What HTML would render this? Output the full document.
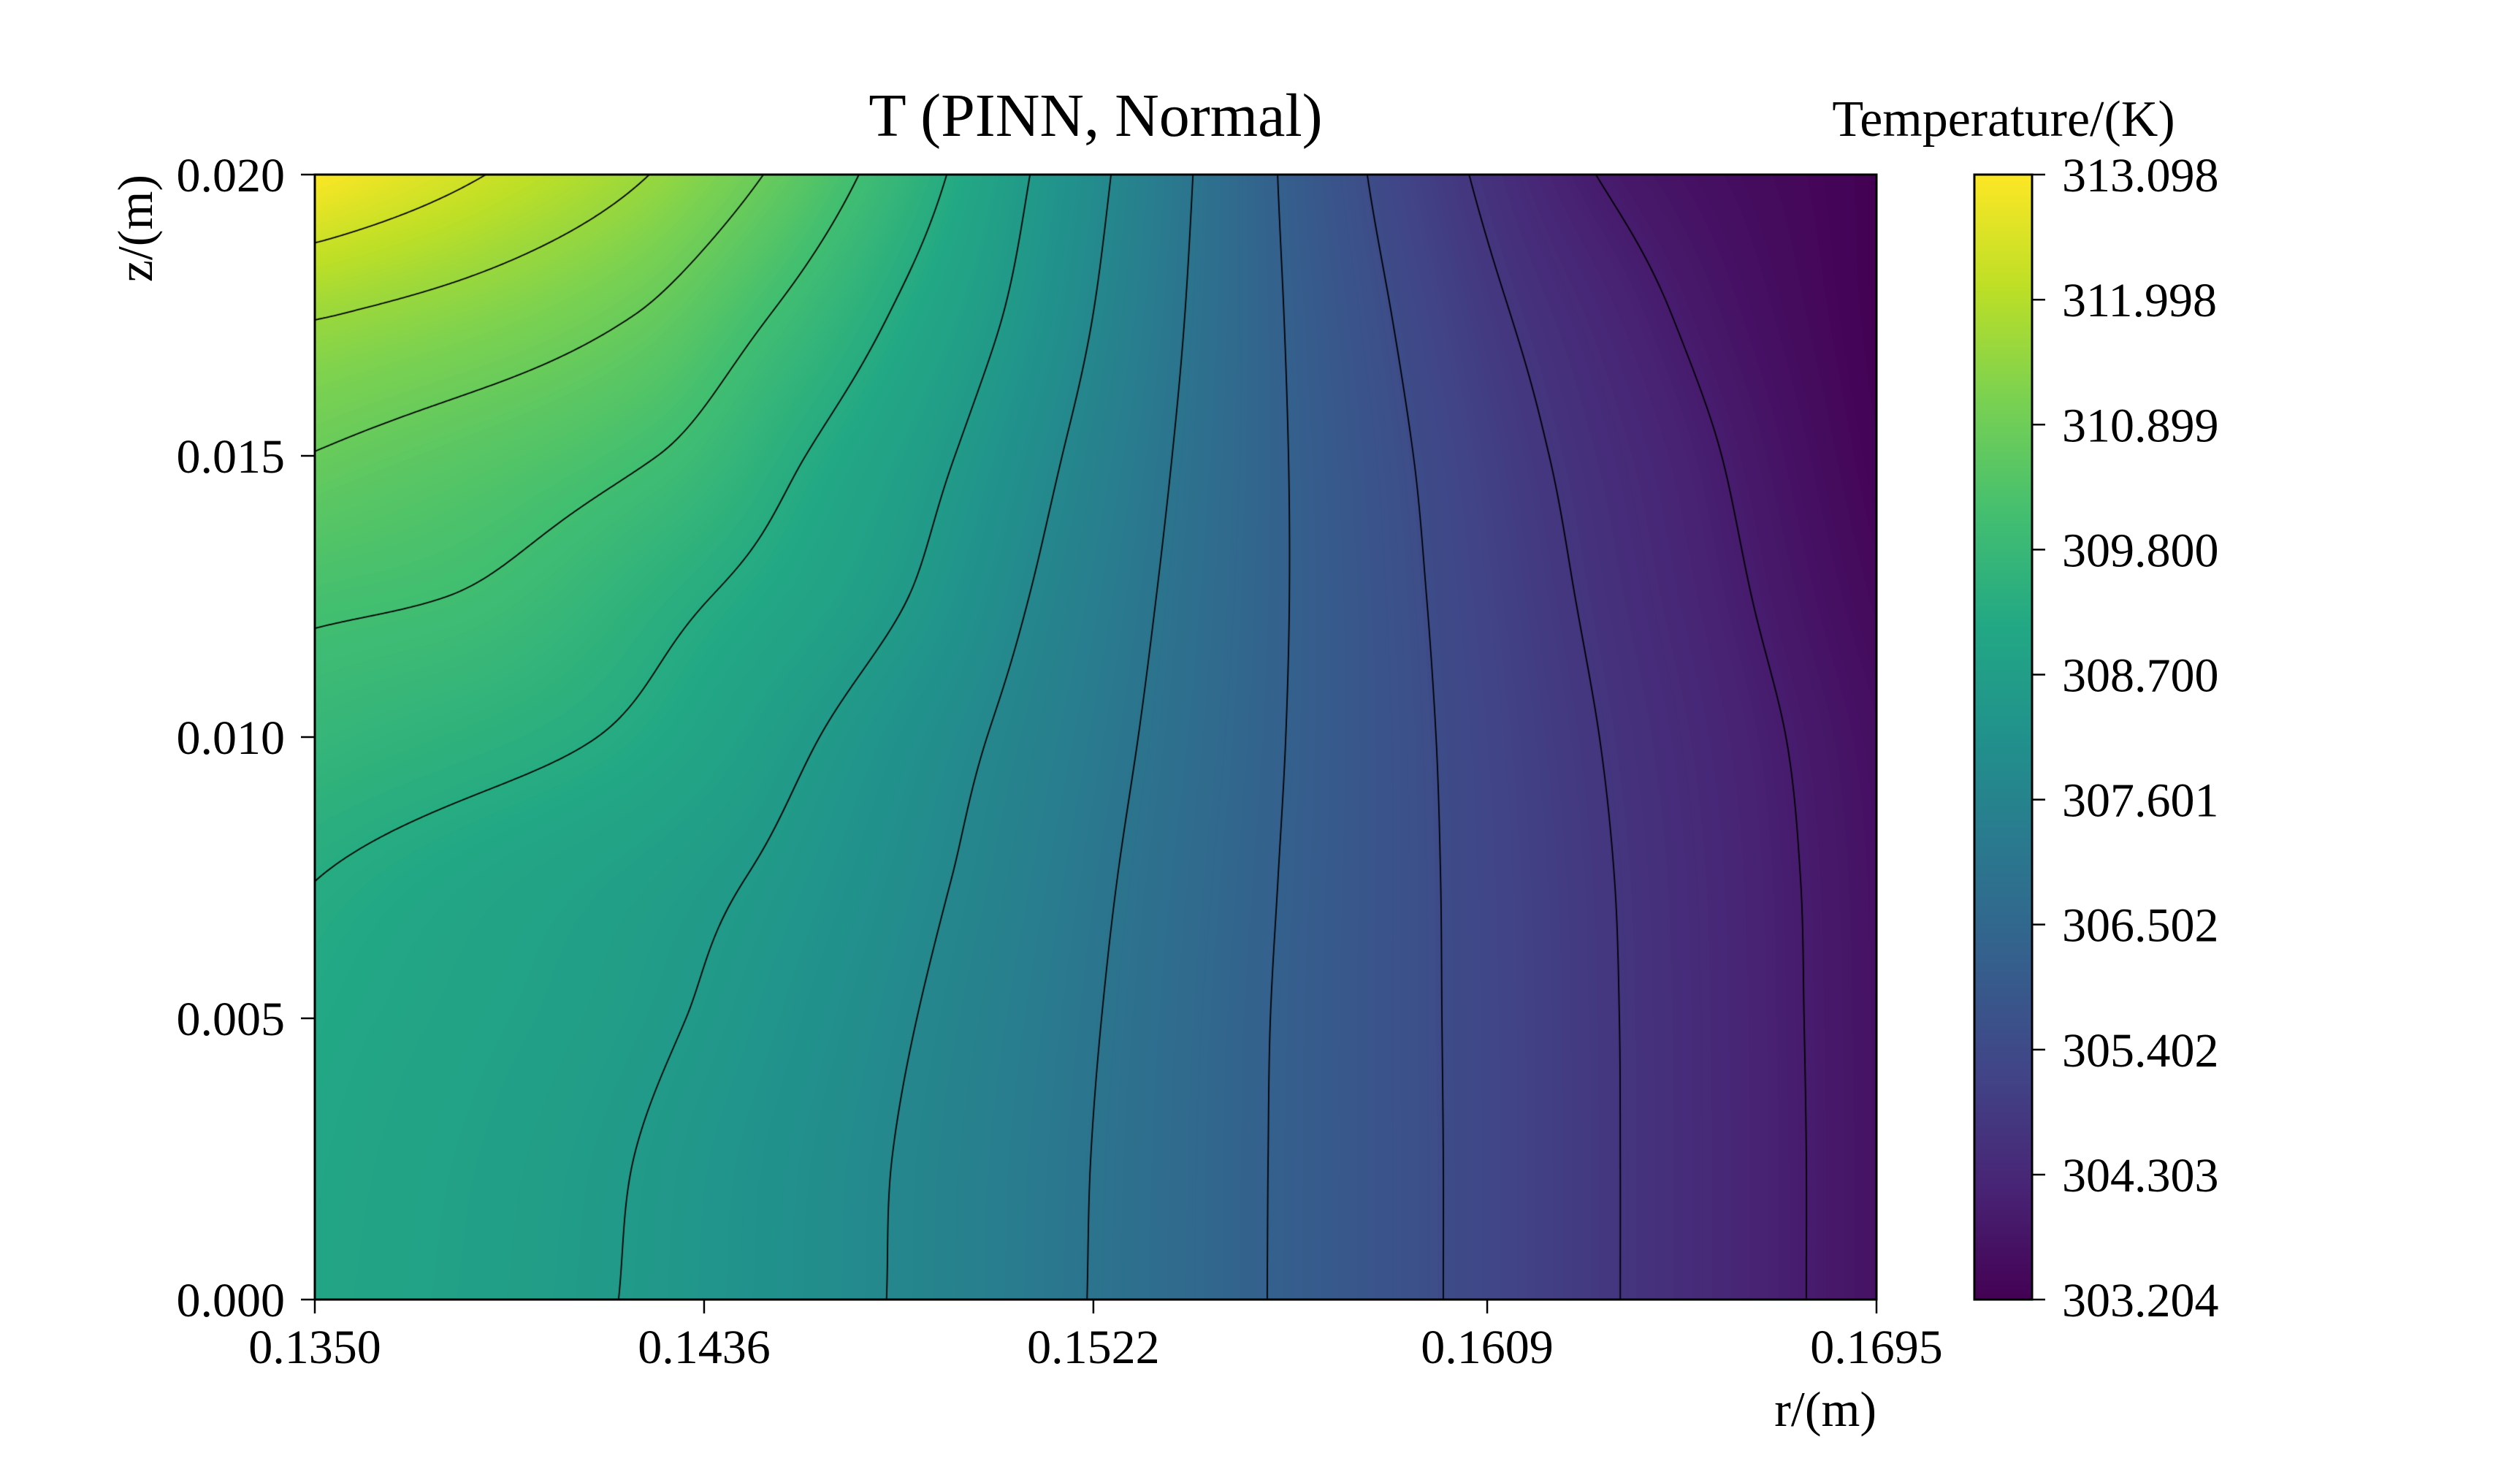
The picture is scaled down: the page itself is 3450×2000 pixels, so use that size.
<!DOCTYPE html>
<html>
<head>
<meta charset="utf-8">
<style>
  html,body{margin:0;padding:0;background:#fff;}
  #wrap{position:relative;width:3450px;height:2000px;overflow:hidden;background:#fff;font-family:"Liberation Serif",serif;}
  #field{position:absolute;left:431px;top:239px;width:2138px;height:1540px;}
  #cb{position:absolute;left:2703px;top:239px;width:79px;height:1540px;
      background:linear-gradient(to top,#440154 0%,#482475 10%,#414487 20%,#355f8d 30%,#2a788e 40%,#21918c 50%,#22a884 60%,#44bf70 70%,#7ad151 80%,#bddf26 90%,#fde725 100%);}
  svg{position:absolute;left:0;top:0;}
  text{font-family:"Liberation Serif",serif;fill:#000;}
</style>
</head>
<body>
<div id="wrap">
  <canvas id="field" width="2138" height="1540"></canvas>
  <div id="cb"></div>
  <svg id="ov" width="3450" height="2000">
    <text x="1500" y="186" font-size="84" text-anchor="middle">T (PINN, Normal)</text>
    <text x="2743" y="186" font-size="70" text-anchor="middle">Temperature/(K)</text>
    <text x="2569" y="1952" font-size="68" text-anchor="end">r/(m)</text>
    <text transform="translate(208,239) rotate(-90)" font-size="68" text-anchor="end">z/(m)</text>
    <rect x="431" y="239" width="2138" height="1540" fill="none" stroke="#000" stroke-width="3"/>
    <rect x="2703" y="239" width="79" height="1540" fill="none" stroke="#000" stroke-width="3"/>
    <g id="xt"></g>
    <g id="yt"></g>
    <g id="ct"></g>
  </svg>
</div>
<script>
// ---- data ----
const Tmin = 303.204;
const Tmax = 313.098;
const nLevels = 14;
const rowsZ = [0.020, 0.0175, 0.015, 0.0125, 0.010, 0.0075, 0.005, 0.0025, 0.0];
// r positions where contour lines cross each z-row (highest level first, ending with level 1)
const crossR0 = [0.13878,0.14239,0.14491,0.14702,0.14896,0.15080,0.15259,0.15440,0.15627,0.15825,0.16050,0.16330];
const crossR1 = [0.13547,0.14205,0.14505,0.14767,0.15020,0.15219,0.15422,0.15641,0.15879,0.16142,0.16498];
const crossR2 = [0.14257,0.14584,0.14914,0.15151,0.15394,0.15651,0.15927,0.16227,0.16608];
const crossR3 = [0.13792,0.14376,0.14812,0.15078,0.15359,0.15653,0.15956,0.16284,0.16674];
const crossR4 = [0.14124,0.14615,0.14985,0.15319,0.15645,0.15977,0.16338,0.16750];
const crossR5 = [0.14452,0.14907,0.15273,0.15628,0.15987,0.16371,0.16782];
const crossR6 = [0.14320,0.14830,0.15238,0.15611,0.15990,0.16382,0.16790];
const crossR7 = [0.14204,0.14775,0.15214,0.15606,0.15993,0.16384,0.16795];
const crossR8 = [0.14171,0.14763,0.15206,0.15604,0.15993,0.16384,0.16795];
const crossR = [crossR0,crossR1,crossR2,crossR3,crossR4,crossR5,crossR6,crossR7,crossR8];
const leftT  = [313.098,311.614,310.792,310.168,309.719,309.300,309.140,309.064,309.026];
const rightT = [303.204,303.204,303.280,303.425,303.592,303.653,303.668,303.676,303.676];
const xTicks = [0.1350,0.1436,0.1522,0.1609,0.1695];
const xTickLabels = ["0.1350","0.1436","0.1522","0.1609","0.1695"];
const yTicks = [0.000,0.005,0.010,0.015,0.020];
const yTickLabels = ["0.000","0.005","0.010","0.015","0.020"];
const cbTicks = [303.204,304.303,305.402,306.502,307.601,308.700,309.800,310.899,311.998,313.098];
const cbTickLabels = ["303.204","304.303","305.402","306.502","307.601","308.700","309.800","310.899","311.998","313.098"];

// ---- scales ----
const R0=0.135, R1=0.1695, Z0=0, Z1=0.02;
const PX=431, PY=239, PW=2138, PH=1540;
function xS(r){return PX+(r-R0)/(R1-R0)*PW;}
function yS(z){return PY+PH-(z-Z0)/(Z1-Z0)*PH;}
function cbY(t){return PY+PH-(t-Tmin)/(Tmax-Tmin)*PH;}
const dT=(Tmax-Tmin)/(nLevels-1);

// viridis
const vAnch=["#440154","#482475","#414487","#355f8d","#2a788e","#21918c","#22a884","#44bf70","#7ad151","#bddf26","#fde725"].map(h=>[parseInt(h.substr(1,2),16),parseInt(h.substr(3,2),16),parseInt(h.substr(5,2),16)]);
const LUT=new Uint8Array(256*3);
for(let i=0;i<256;i++){const f=i/255*10;const k=Math.min(9,Math.floor(f));const t=f-k;
  for(let c=0;c<3;c++)LUT[i*3+c]=Math.round(vAnch[k][c]*(1-t)+vAnch[k+1][c]*t);}

// row profiles with monotone cubic (PCHIP) interpolation
const NR=rowsZ.length;
const rowPts=[];
for(let j=0;j<NR;j++){
  const cr=crossR[j];const n=cr.length;
  const pr=[R0],pt=[leftT[j]];
  for(let i=0;i<n;i++){ if(cr[i]>pr[pr.length-1]+1e-6){pr.push(cr[i]);pt.push(Tmin+(n-i)*dT);} }
  if(R1>pr[pr.length-1]+1e-6){pr.push(R1);pt.push(rightT[j]);}
  const m=pr.length;const h=[],d=[];
  for(let i=0;i<m-1;i++){h.push(pr[i+1]-pr[i]);d.push((pt[i+1]-pt[i])/h[i]);}
  const s=new Array(m).fill(0);
  for(let i=1;i<m-1;i++){
    if(d[i-1]*d[i]>0){const w1=2*h[i]+h[i-1],w2=h[i]+2*h[i-1];s[i]=(w1+w2)/(w1/d[i-1]+w2/d[i]);}
  }
  s[0]=d[0];s[m-1]=d[m-2];
  rowPts.push({pr,pt,s});
}
function rowT(j,r){
  const P=rowPts[j];const pr=P.pr,pt=P.pt,s=P.s;
  if(r<=pr[0])return pt[0];
  for(let i=0;i<pr.length-1;i++){
    if(r<=pr[i+1]){
      const h=pr[i+1]-pr[i];const t=(r-pr[i])/h;const t2=t*t,t3=t2*t;
      return (2*t3-3*t2+1)*pt[i]+(t3-2*t2+t)*h*s[i]+(-2*t3+3*t2)*pt[i+1]+(t3-t2)*h*s[i+1];
    }
  }
  return pt[pt.length-1];
}
function colVals(r){const v=new Float64Array(NR);for(let j=0;j<NR;j++)v[j]=rowT(j,r);return v;}
function vInterp(v,z){
  let j=0;
  for(j=0;j<NR-2;j++){if(z>=rowsZ[j+1])break;}
  const t=(rowsZ[j]-z)/(rowsZ[j]-rowsZ[j+1]);
  const p1=v[j],p2=v[j+1];
  const p0=j>0?v[j-1]:2*p1-p2;
  const p3=j+2<NR?v[j+2]:2*p2-p1;
  const t2=t*t,t3=t2*t;
  return 0.5*((2*p1)+(-p0+p2)*t+(2*p0-5*p1+4*p2-p3)*t2+(-p0+3*p1-3*p2+p3)*t3);
}

// ---- render field ----
const cv=document.getElementById('field');
const ctx=cv.getContext('2d');
const img=ctx.createImageData(PW,PH);
const zs=new Float64Array(PH);
for(let py=0;py<PH;py++)zs[py]=Z1-(py+0.5)/PH*(Z1-Z0);
for(let px=0;px<PW;px++){
  const r=R0+(px+0.5)/PW*(R1-R0);
  const v=colVals(r);
  for(let py=0;py<PH;py++){
    let T=vInterp(v,zs[py]);
    let f=(T-Tmin)/(Tmax-Tmin);f=f<0?0:f>1?1:f;
    const k=Math.round(f*255)*3;const o=(py*PW+px)*4;
    img.data[o]=LUT[k];img.data[o+1]=LUT[k+1];img.data[o+2]=LUT[k+2];img.data[o+3]=255;
  }
}
ctx.putImageData(img,0,0);

// ---- contour lines (marching squares) ----
const S=2;
const GW=Math.floor(PW/S)+1, GH=Math.floor(PH/S)+1;
const G=new Float64Array(GW*GH);
for(let gx=0;gx<GW;gx++){
  const r=R0+Math.min(gx*S,PW)/PW*(R1-R0);
  const v=colVals(r);
  for(let gy=0;gy<GH;gy++){
    const z=Z1-Math.min(gy*S,PH)/PH*(Z1-Z0);
    G[gy*GW+gx]=vInterp(v,z);
  }
}
ctx.strokeStyle='#000';ctx.lineWidth=1.8;ctx.lineCap='round';
for(let k=1;k<nLevels-1;k++){
  const L=Tmin+k*dT;
  ctx.beginPath();
  for(let gy=0;gy<GH-1;gy++){
    for(let gx=0;gx<GW-1;gx++){
      const a=G[gy*GW+gx],b=G[gy*GW+gx+1],c=G[(gy+1)*GW+gx+1],d=G[(gy+1)*GW+gx];
      const pts=[];
      const x0=gx*S,y0=gy*S;
      if((a-L)*(b-L)<0)pts.push([x0+S*(L-a)/(b-a),y0]);
      if((b-L)*(c-L)<0)pts.push([x0+S,y0+S*(L-b)/(c-b)]);
      if((d-L)*(c-L)<0)pts.push([x0+S*(L-d)/(c-d),y0+S]);
      if((a-L)*(d-L)<0)pts.push([x0,y0+S*(L-a)/(d-a)]);
      for(let i=0;i+1<pts.length;i+=2){ctx.moveTo(pts[i][0],pts[i][1]);ctx.lineTo(pts[i+1][0],pts[i+1][1]);}
    }
  }
  ctx.stroke();
}

// ---- ticks ----
const NS='http://www.w3.org/2000/svg';
function mk(tag,attrs,parent){const e=document.createElementNS(NS,tag);for(const k in attrs)e.setAttribute(k,attrs[k]);parent.appendChild(e);return e;}
const xt=document.getElementById('xt');
xTicks.forEach((v,i)=>{
  const x=xS(v);
  const ln=mk('line',{x1:x,x2:x,y1:PY+PH,y2:PY+PH+19,stroke:'#000','stroke-width':2.5},xt);
  
  
  const t=mk('text',{x:x,y:1866,'font-size':66,'text-anchor':'middle'},xt);
  t.textContent=xTickLabels[i];
  
  
});
const yt=document.getElementById('yt');
yTicks.forEach((v,i)=>{
  const y=yS(v);
  const ln=mk('line',{x1:PX-19,x2:PX,y1:y,y2:y,stroke:'#000','stroke-width':2.5},yt);
  
  
  const t=mk('text',{x:390,y:y+23,'font-size':66,'text-anchor':'end'},yt);
  t.textContent=yTickLabels[i];
  
  
});
const ct=document.getElementById('ct');
cbTicks.forEach((v,i)=>{
  const y=cbY(v);
  const ln=mk('line',{x1:2782,x2:2800,y1:y,y2:y,stroke:'#000','stroke-width':2.5},ct);
  
  
  const t=mk('text',{x:2823,y:y+23,'font-size':66,'text-anchor':'start'},ct);
  t.textContent=cbTickLabels[i];
  
  
});
</script>
</body>
</html>
